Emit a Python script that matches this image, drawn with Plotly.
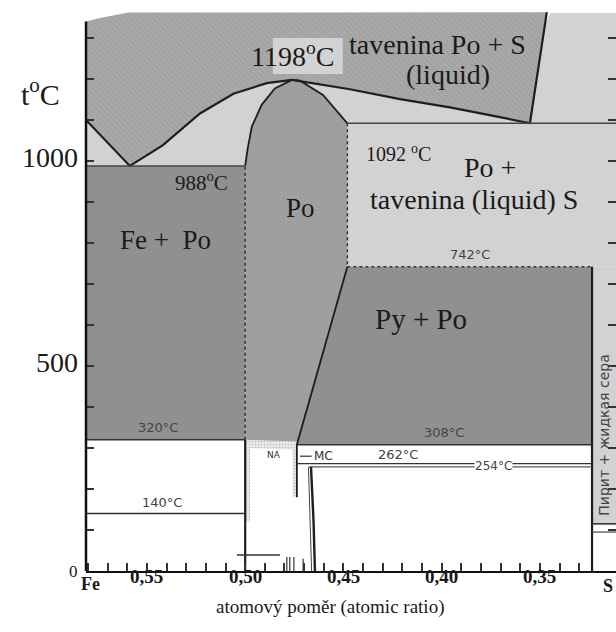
import plotly.graph_objects as go

# ---------------- data: Fe–S phase diagram (x = atomic ratio, T in °C) ----------------
X_FE, X_END = 0.581, 0.3113          # Fe side edge, right edge of drawn window
T_TOP = 1373.2

X_TICKS = [0.33, 0.34, 0.35, 0.36, 0.37, 0.38, 0.39, 0.40, 0.41, 0.42, 0.43, 0.44, 0.45,
           0.46, 0.47, 0.48, 0.49, 0.50, 0.51, 0.52, 0.53, 0.54, 0.55, 0.56, 0.57, 0.58]
X_LABEL_VALS = [0.55, 0.50, 0.45, 0.40, 0.35]
X_LABEL_TEXT = ["0,55", "0,50", "0,45", "0,40", "0,35"]
Y_TICKS = [100, 200, 300, 400, 500, 600, 700, 800, 900, 1000, 1100, 1200, 1300]
Y_LABEL_VALS = [1000, 500, 0]
Y_LABEL_TEXT = ["1000", "500", "0"]

# invariant temperatures
T_PEAK, T_EUT, T_PO_LIQ, T_PY = 1198, 988, 1092, 742
T_FE_PO, T_PY_PO, T_MC, T_254, T_140, T_S = 320, 308, 262, 254, 140, 115

# liquidus curves
left_liq_x = [0.581, 0.5587, 0.542, 0.523, 0.506, 0.489, 0.4762]
left_liq_t = [1100, 988, 1038, 1116, 1164, 1190, 1198]
right_liq_x = [0.4762, 0.4686, 0.4467, 0.4212, 0.3958, 0.3704, 0.3551]
right_liq_t = [1198, 1192, 1175, 1151, 1131, 1107, 1092]
liq_edge_x = [0.3551, 0.3465]
liq_edge_t = [1092, 1363]
liq_top_x = [0.3465, 0.5595, 0.5745, 0.581]
liq_top_t = [1363, 1362, 1348, 1340]

# pyrrhotite (Po) field
po_left_x = [0.50, 0.50, 0.4987, 0.4966, 0.4916, 0.4849, 0.4762]
po_left_t = [320, 988, 1031, 1084, 1137, 1177, 1198]
po_right_x = [0.4762, 0.4721, 0.4604, 0.4518, 0.448]
po_right_t = [1198, 1196, 1161, 1115, 1092]
po_side_x = [0.448, 0.448]
po_side_t = [1092, 742]
po_slant_x = [0.448, 0.4737, 0.4737]
po_slant_t = [742, 308, 180]

# pyrite line and low-temperature boundaries
X_PO_L, X_PO_R, X_PY, X_PO_LOW = 0.50, 0.448, 0.3235, 0.4737
low_line_x = [0.4665, 0.4652, 0.4645]
low_line_t = [254, 120, 0]
low_line2_x = [0.4678, 0.4668, 0.4662]
low_line2_t = [254, 120, 0]
t39_x = [0.5042, 0.4823]
t39_t = [39, 39]
stub_x = [0.4788, 0.4773, 0.4752, 0.4705]
stub_t = [34, 34, 34, 30]

LIGHT = "#d2d2d2"
DARK = "#909090"
LIQ = "#a9a9a9"
PO = "#a0a0a0"
INK = "#1e1e1e"

# plot-area geometry (pixels) used to place labels that sit outside the axes
PLOT_LEFT, PLOT_W = 86, 530

fig = go.Figure()


def poly(xs, ts, color, pattern=None):
    kw = dict(x=xs, y=ts, mode="lines", fill="toself", fillcolor=color,
              line=dict(width=0), hoverinfo="skip", showlegend=False)
    if pattern:
        kw["fillpattern"] = pattern
    fig.add_trace(go.Scatter(**kw))


def line(xs, ts, width=1.5, color=INK, dash="solid"):
    fig.add_trace(go.Scatter(x=xs, y=ts, mode="lines", hoverinfo="skip", showlegend=False,
                             line=dict(width=width, color=color, dash=dash)))


# light fields: Po + liquid, Fe + liquid, liquid S side
poly([X_FE, X_END, X_END, 0.3448, 0.3462, 0.3500, X_FE],
     [T_PY, T_PY, 1361, 1361, 1345, 1300, 1300], LIGHT)
poly([X_PY, X_END, X_END, X_PY], [T_S, T_S, T_PY, T_PY], LIGHT)

# dark two-phase fields
poly([X_FE, X_PO_L, X_PO_L, X_FE], [T_FE_PO, T_FE_PO, T_EUT, T_EUT], DARK)
poly([X_PO_R, X_PY, X_PY, X_PO_LOW], [T_PY, T_PY, T_PY_PO, T_PY_PO], DARK)

# Po single-phase field
poly(po_left_x + po_right_x[1:] + po_side_x[1:] + [X_PO_LOW, X_PO_L],
     po_left_t + po_right_t[1:] + po_side_t[1:] + [T_PY_PO, T_FE_PO], PO,
     dict(shape=".", fgcolor="#8e8e8e", bgcolor=PO, size=4, solidity=0.15))

# liquid field (hatched)
poly(left_liq_x + right_liq_x[1:] + liq_edge_x[1:] + liq_top_x[1:],
     left_liq_t + right_liq_t[1:] + liq_edge_t[1:] + liq_top_t[1:], LIQ,
     dict(shape="\\", fgcolor="#8f8f8f", bgcolor=LIQ, size=4, solidity=0.25))

# stippled low-temperature Po boundary (NA)
poly([X_PO_L, X_PO_LOW, X_PO_LOW, 0.4760, 0.4760, 0.4975, 0.4975, X_PO_L],
     [T_FE_PO, T_FE_PO - 4, 180, 180, 296, 300, 120, 120], "#e6e6e6",
     dict(shape=".", fgcolor="#9a9a9a", bgcolor="#eeeeee", size=3, solidity=0.35))

# liquidus and field boundaries
line(left_liq_x, left_liq_t, 2.2)
line(right_liq_x, right_liq_t, 2.2)
line(liq_edge_x, liq_edge_t, 2.2)
line(po_left_x[1:], po_left_t[1:], 1.8)
line(po_right_x, po_right_t, 1.8)
line([X_PO_L, X_PO_L], [T_FE_PO, T_EUT], 1.5, "#333", "dot")
line(po_side_x, po_side_t, 1.5, "#333", "dot")
line(po_slant_x, po_slant_t, 1.8)
line([X_FE, X_PO_L], [T_EUT, T_EUT], 1.5, "#444")
line([X_PO_R, X_END], [T_PO_LIQ, T_PO_LIQ], 1.5, "#444")
line([X_PO_R, X_PY], [T_PY, T_PY], 1.5, "#333", "dot")
line([X_FE, X_PO_L], [T_FE_PO, T_FE_PO], 1.5, "#333")
line([X_PO_LOW, X_PY], [T_PY_PO, T_PY_PO], 1.5, "#333")
line([X_FE, X_PO_L], [T_140, T_140], 1.5, "#333")
line([X_PO_L, X_PO_L], [0, T_FE_PO], 2.2)
line([X_PY, X_PY], [0, T_PY], 2.2)
line([X_PO_LOW, X_PY], [T_MC, T_MC], 1.3, "#333")
line([0.4675, X_PY], [T_254, T_254], 1.1, "#555")
line([X_PY, X_END], [T_S, T_S], 1.6, "#333")
line([X_PY, X_END], [95, 95], 1.2, "#444")
line([0.4721, 0.4662], [280, 280], 1.2, "#333")
line(low_line_x, low_line_t, 2.4)
line(low_line2_x, low_line2_t, 1.0, "#444")
line(t39_x, t39_t, 1.3, "#333")
for sx, st in zip(stub_x, stub_t):
    line([sx, sx], [0, st], 1.2, "#333")

# left spine
fig.add_shape(type="line", xref="paper", yref="paper", x0=0, x1=0,
              y0=0, y1=1340 / T_TOP, line=dict(color="#111", width=2.5))
# light box behind the peak label
fig.add_shape(type="rect", xref="x", yref="y", x0=0.4859, x1=0.4503, y0=1212, y1=1300,
              fillcolor=LIGHT, line=dict(width=0), layer="above")

SERIF = "Liberation Serif"
SANS = "DejaVu Sans"


def txt(x, y, s, size, font=SERIF, color="#1a1a1a", **kw):
    fig.add_annotation(x=x, y=y, text=s, showarrow=False,
                       font=dict(family=font, size=size, color=color), **kw)


# field labels
txt(0.4757, 1259, "1198<sup>o</sup>C", 28)
txt(0.4019, 1283, "tavenina Po + S", 28)
txt(0.3968, 1210, "(liquid)", 28)
txt(0.522, 951, "988<sup>o</sup>C", 21)
txt(0.4721, 885, "Po", 27)
txt(0.5408, 807, "Fe +  Po", 27)
txt(0.4218, 1020, "1092 <sup>o</sup>C", 20)
txt(0.3755, 985, "Po +", 28)
txt(0.3836, 907, "tavenina (liquid) S", 28)
txt(0.4106, 615, "Py + Po", 29)

# small temperature labels
txt(0.3856, 772, "742°C", 13, SANS, "#444")
txt(0.5444, 349, "320°C", 13, SANS, "#444")
txt(0.3989, 337, "308°C", 13, SANS, "#444")
txt(0.4223, 285, "262°C", 13, SANS, "#444")
txt(0.3734, 256, "254°C", 12, SANS, "#444", bgcolor="white", borderpad=0)
txt(0.5424, 166, "140°C", 13, SANS, "#444")
txt(0.4604, 280, "MC", 12, SANS, "#333")
txt(0.4854, 283, "NA", 9, SANS, "#333")
txt(0.3174, 330, "Пирит + жидкая сера", 14, SANS, "#444", textangle=-90)

# temperature axis labels (left of the plot area, in paper coordinates)
for v, s in zip(Y_LABEL_VALS, Y_LABEL_TEXT):
    fig.add_annotation(x=(80 - PLOT_LEFT) / PLOT_W, xref="paper", y=v, yref="y",
                       text=s, showarrow=False, xanchor="right",
                       yshift=4 if v else 0,
                       font=dict(family=SERIF, size=28 if v else 17, color="#1a1a1a"))
fig.add_annotation(x=(62 - PLOT_LEFT) / PLOT_W, xref="paper", y=1168, yref="y",
                   text="t<sup>o</sup>C", showarrow=False, xanchor="right",
                   font=dict(family=SERIF, size=30, color="#1a1a1a"))

# composition axis labels
for v, s in zip(X_LABEL_VALS, X_LABEL_TEXT):
    fig.add_annotation(x=v, y=0, yref="paper", text="<b>%s</b>" % s, showarrow=False,
                       yshift=-18, font=dict(family=SERIF, size=19, color="#1a1a1a"))
fig.add_annotation(x=0.5785, y=0, yref="paper", text="<b>Fe</b>", showarrow=False,
                   yshift=-25, font=dict(family=SERIF, size=18, color="#1a1a1a"))
fig.add_annotation(x=0.3154, y=0, yref="paper", text="<b>S</b>", showarrow=False,
                   yshift=-27, font=dict(family=SERIF, size=18, color="#1a1a1a"))
fig.add_annotation(x=0.4604, y=0, xref="paper", yref="paper",
                   text="atomový poměr (atomic ratio)", showarrow=False, yshift=-49,
                   font=dict(family=SERIF, size=19, color="#1a1a1a"))

fig.update_layout(
    width=616, height=632,
    margin=dict(l=86, r=0, t=8, b=61),
    paper_bgcolor="white", plot_bgcolor="white",
    showlegend=False,
    xaxis=dict(range=[X_FE, X_END], showgrid=False, zeroline=False,
               showline=True, linecolor="#111", linewidth=2,
               ticks="inside", tickvals=X_TICKS, ticklen=8, tickwidth=1.5,
               tickcolor="#333", showticklabels=False),
    yaxis=dict(range=[0, T_TOP], showgrid=False, zeroline=False, showline=False,
               ticks="inside", tickvals=Y_TICKS, ticklen=8, tickwidth=1.5,
               tickcolor="#333", showticklabels=False, mirror="ticks"),
)

fig.write_html("out.html")
